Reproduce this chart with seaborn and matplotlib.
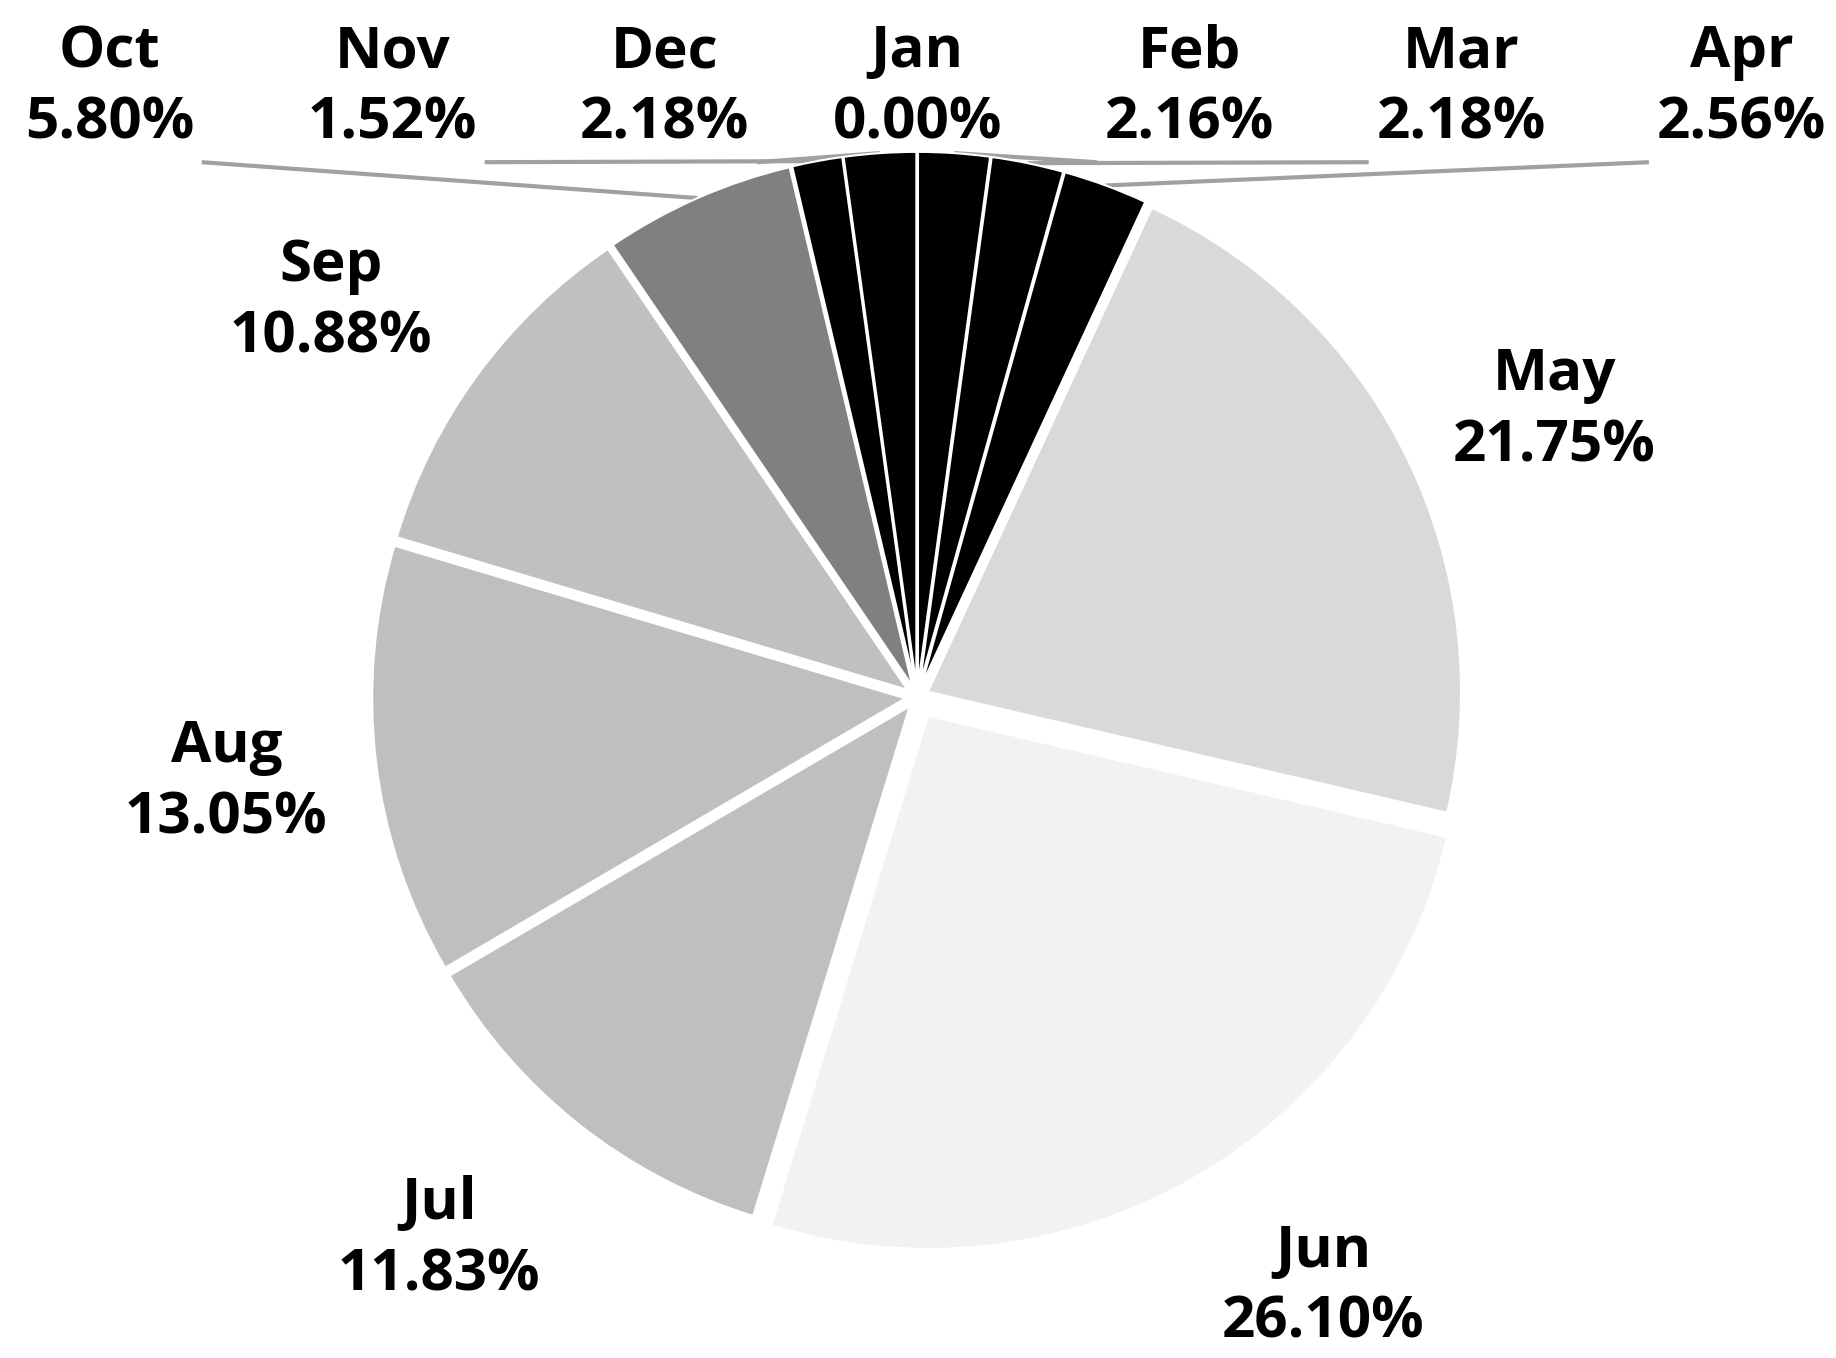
import numpy as np
import matplotlib.pyplot as plt
import seaborn as sns

# monthly share (%), clockwise from the top
months = ['Jan', 'Feb', 'Mar', 'Apr', 'May', 'Jun', 'Jul', 'Aug', 'Sep', 'Oct', 'Nov', 'Dec']
shares = [0.00, 2.16, 2.18, 2.56, 21.75, 26.10, 11.83, 13.05, 10.88, 5.80, 1.52, 2.18]
colors = ['#000000', '#000000', '#000000', '#000000', '#d9d9d9', '#f2f2f2',
          '#bfbfbf', '#bfbfbf', '#c0c0c0', '#808080', '#000000', '#000000']

# small slices get their labels in a row across the top
top_months = ['Oct', 'Nov', 'Dec', 'Jan', 'Feb', 'Mar', 'Apr']
top_x = [-1.485, -0.965, -0.465, 0.0, 0.5, 1.0, 1.515]
top_y = 1.12

# the big slices get labels beside the pie
side_pos = {'May': (1.171, 0.526), 'Jun': (0.746, -1.085), 'Jul': (-0.879, -0.998),
            'Aug': (-1.270, -0.158), 'Sep': (-1.077, 0.726)}

sns.set_theme(style="white")
plt.rcParams['font.family'] = ['Open Sans', 'DejaVu Sans']

fig = plt.figure(figsize=(18.36, 13.58), dpi=100)
ax = fig.add_axes([0, 0, 1, 1])

explode = [0.04 if m == 'Jun' else 0.022 for m in months]
wedges, _ = ax.pie(shares, colors=colors, startangle=90, counterclock=False,
                   explode=explode, radius=0.98,
                   wedgeprops=dict(edgecolor='white', linewidth=1.5))

ax.set_xlim(-1.686, 1.689)
ax.set_ylim(-1.215, 1.281)
ax.set_axis_off()

lab_font = dict(fontsize=42, fontweight='bold', color='black',
                ha='center', va='center', linespacing=1.3)

def label_text(m):
    return f"{m}\n{shares[months.index(m)]:.2f}%"

# side labels
for m, (x, y) in side_pos.items():
    ax.text(x, y, label_text(m), **lab_font)

# top row labels with leader lines
line_y = 0.983
half_w = 0.17
for m, x in zip(top_months, top_x):
    ax.text(x, top_y, label_text(m), **lab_font)
    if m == 'Jan':
        continue
    w = wedges[months.index(m)]
    ang = np.deg2rad((w.theta1 + w.theta2) / 2)
    cx, cy = w.center
    px, py = cx + w.r * np.cos(ang), cy + w.r * np.sin(ang)
    sx = x + half_w if x < 0 else x - half_w
    ax.plot([sx, px], [line_y, py], color='#a0a0a0', lw=3, zorder=0,
            solid_capstyle='butt')

fig.savefig('out.png', dpi=100, facecolor='white')
